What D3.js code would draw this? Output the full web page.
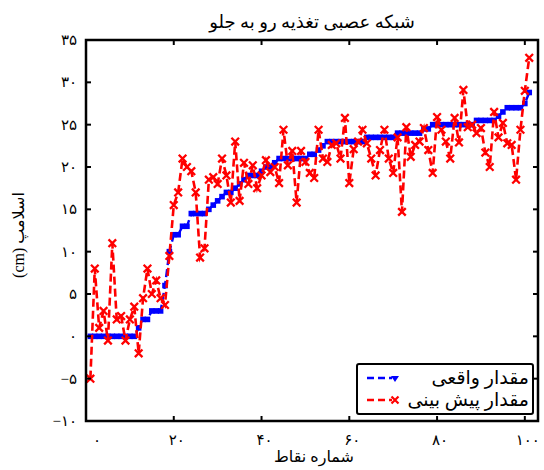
<!DOCTYPE html>
<html>
<head>
<meta charset="utf-8">
<script src="https://d3js.org/d3.v7.min.js"></script>
<style>
  html, body { margin: 0; padding: 0; background: #fff; }
  svg text { font-family: "Liberation Serif", "DejaVu Sans", serif; }
</style>
</head>
<body>
<div id="chart"></div>
<script>
// Measured slump (sorted ascending) and the feed-forward network prediction, one value per sample.
const actual = [
  0,0,0,0,0,0,0,0,0,0,0,1,2,2,3,3,3,6,10,12,
  12,13,13,14.5,14.5,14.5,14.5,15,15.5,16,16.5,17,17,17.5,18,18.5,19,19,19,19.5,
  20,20,20.5,21,21,21,21,21,21,21,21.5,21.5,22,22.5,23,23,23,23,23,23,
  23,23,23,23.5,23.5,23.5,23.5,23.5,23.5,23.5,24,24,24,24,24,24,24.5,24.5,25,25,
  25,25,25,25,25,25,25,25,25.5,25.5,25.5,25.5,25.5,26,26.5,27,27,27,27,27.5,
  28.8
];
const predicted = [
  -5,8,1,3,-0.5,11,2,2.4,-0.5,2,3.5,-2,4.5,8,5,6.6,4.5,3.7,9.5,15.5,
  17,21,20,19.5,17,9.3,10.4,18.5,18.8,18,21,19,15.8,23,16,20.5,18,20.2,17.5,19,
  20.8,19.4,20,18.1,24.4,20.2,21.9,15.8,21.9,20.6,19.3,18.7,24.4,21,20.6,22.6,22.8,21,25.8,18.1,
  22.1,23,24.4,22.8,21,19,22,24.4,21,19.3,23.5,14.7,24.7,21.2,22.6,23,24.6,22,19.3,25.9,
  24.4,23,21,25.8,22.9,29.1,24.7,25,24,24.6,21.7,20,26.5,23.5,25.2,22.8,22.6,18.5,24.4,29,
  32.9
];
const yTicks = [35, 30, 25, 20, 15, 10, 5, 0, -5, -10];
const xTicks = [0, 20, 40, 60, 80, 100];
const labels = {
  title: "شبکه عصبی تغذیه رو به جلو",
  x: "شماره نقاط",
  y: "اسلامپ (cm)",
  actual: "مقدار واقعی",
  predicted: "مقدار پیش بینی"
};

const W = 544, H = 470;
const box = { left: 86, right: 538, top: 40, bottom: 421 };

// tick labels in Persian digits
const fa = n => {
  const s = String(Math.abs(n)).replace(/\d/g, d => "۰۱۲۳۴۵۶۷۸۹"[d]);
  return n < 0 ? "\u2212" + s : s;
};

const svg = d3.select("#chart").append("svg")
  .attr("width", W).attr("height", H);

const x = d3.scaleLinear().domain([0, 103]).range([box.left, box.right]);
const y = d3.scaleLinear().domain([-10, 35]).range([box.bottom, box.top]);

svg.append("clipPath").attr("id", "plotclip")
  .append("rect")
  .attr("x", box.left).attr("y", box.top)
  .attr("width", box.right - box.left).attr("height", box.bottom - box.top);

const plot = svg.append("g").attr("clip-path", "url(#plotclip)");

const ptsA = actual.map((v, i) => [i + 1, v]);
const ptsP = predicted.map((v, i) => [i + 1, v]);
const line = d3.line().x(d => x(d[0])).y(d => y(d[1]));

// actual: blue dashed line with dot markers
plot.append("path").datum(ptsA)
  .attr("d", line).attr("fill", "none")
  .attr("stroke", "#0000ff").attr("stroke-width", 2.4)
  .attr("stroke-dasharray", "8,4");
plot.append("g").selectAll("rect").data(ptsA).join("rect")
  .attr("x", d => x(d[0]) - 2.8).attr("y", d => y(d[1]) - 2.8)
  .attr("width", 5.6).attr("height", 5.6)
  .attr("fill", "#0000ff");

// predicted: red dashed line with x markers
plot.append("path").datum(ptsP)
  .attr("d", line).attr("fill", "none")
  .attr("stroke", "#ff0000").attr("stroke-width", 2.6)
  .attr("stroke-dasharray", "8,4");
const m = 3.8;
plot.append("g").selectAll("path").data(ptsP).join("path")
  .attr("d", d => {
    const cx = x(d[0]), cy = y(d[1]);
    return `M${cx - m},${cy - m}L${cx + m},${cy + m}M${cx - m},${cy + m}L${cx + m},${cy - m}`;
  })
  .attr("stroke", "#ff0000").attr("stroke-width", 2.3).attr("fill", "none");

// axes box with inward ticks on all four sides
const axes = svg.append("g");
const tl = 5;
xTicks.forEach(t => {
  axes.append("line").attr("x1", x(t)).attr("x2", x(t))
    .attr("y1", box.bottom).attr("y2", box.bottom - tl)
    .attr("stroke", "#000").attr("stroke-width", 2);
  axes.append("line").attr("x1", x(t)).attr("x2", x(t))
    .attr("y1", box.top).attr("y2", box.top + tl)
    .attr("stroke", "#000").attr("stroke-width", 2);
  axes.append("text").attr("x", x(t) + (t === 0 ? 11 : 3)).attr("y", box.bottom + 24)
    .attr("text-anchor", "middle").attr("font-size", 15).text(fa(t));
});
yTicks.forEach(t => {
  axes.append("line").attr("x1", box.left).attr("x2", box.left + tl)
    .attr("y1", y(t)).attr("y2", y(t))
    .attr("stroke", "#000").attr("stroke-width", 2);
  axes.append("line").attr("x1", box.right).attr("x2", box.right - tl)
    .attr("y1", y(t)).attr("y2", y(t))
    .attr("stroke", "#000").attr("stroke-width", 2);
  axes.append("text").attr("x", box.left - 9).attr("y", y(t) + 5)
    .attr("text-anchor", "end").attr("font-size", 15).text(fa(t));
});
axes.append("rect")
  .attr("x", box.left).attr("y", box.top)
  .attr("width", box.right - box.left).attr("height", box.bottom - box.top)
  .attr("fill", "none").attr("stroke", "#000").attr("stroke-width", 2.5);

// titles
svg.append("text").attr("x", 312).attr("y", 28)
  .attr("text-anchor", "middle").attr("font-size", 18).attr("direction", "rtl")
  .text(labels.title);
svg.append("text").attr("x", 314).attr("y", 462)
  .attr("text-anchor", "middle").attr("font-size", 16).attr("direction", "rtl")
  .text(labels.x);
svg.append("text")
  .attr("transform", "translate(24,235) rotate(-90)")
  .attr("text-anchor", "middle").attr("font-size", 16).attr("direction", "rtl")
  .text(labels.y);

// legend (right-to-left entries, anchored at their right edge)
const lg = svg.append("g");
lg.append("rect").attr("x", 357).attr("y", 364).attr("width", 176).attr("height", 50)
  .attr("rx", 2).attr("fill", "#fff").attr("stroke", "#000").attr("stroke-width", 2);
const rows = [
  { label: labels.actual, color: "#0000ff", yy: 378, mark: "tri" },
  { label: labels.predicted, color: "#ff0000", yy: 400, mark: "x" }
];
rows.forEach(r => {
  lg.append("line").attr("x1", 367).attr("x2", 392).attr("y1", r.yy).attr("y2", r.yy)
    .attr("stroke", r.color).attr("stroke-width", 2.4).attr("stroke-dasharray", "7,4");
  if (r.mark === "tri") {
    lg.append("path").attr("d", `M${391},${r.yy - 2}L${399},${r.yy - 2}L${395},${r.yy + 4}Z`)
      .attr("fill", r.color);
  } else {
    const cx = 395, cy = r.yy;
    lg.append("path")
      .attr("d", `M${cx - 3.5},${cy - 3.5}L${cx + 3.5},${cy + 3.5}M${cx - 3.5},${cy + 3.5}L${cx + 3.5},${cy - 3.5}`)
      .attr("stroke", r.color).attr("stroke-width", 2.2);
  }
  lg.append("text").attr("x", 529).attr("y", r.yy + 6)
    .attr("text-anchor", "start").attr("font-size", 19).attr("direction", "rtl")
    .text(r.label);
});
</script>
</body>
</html>
